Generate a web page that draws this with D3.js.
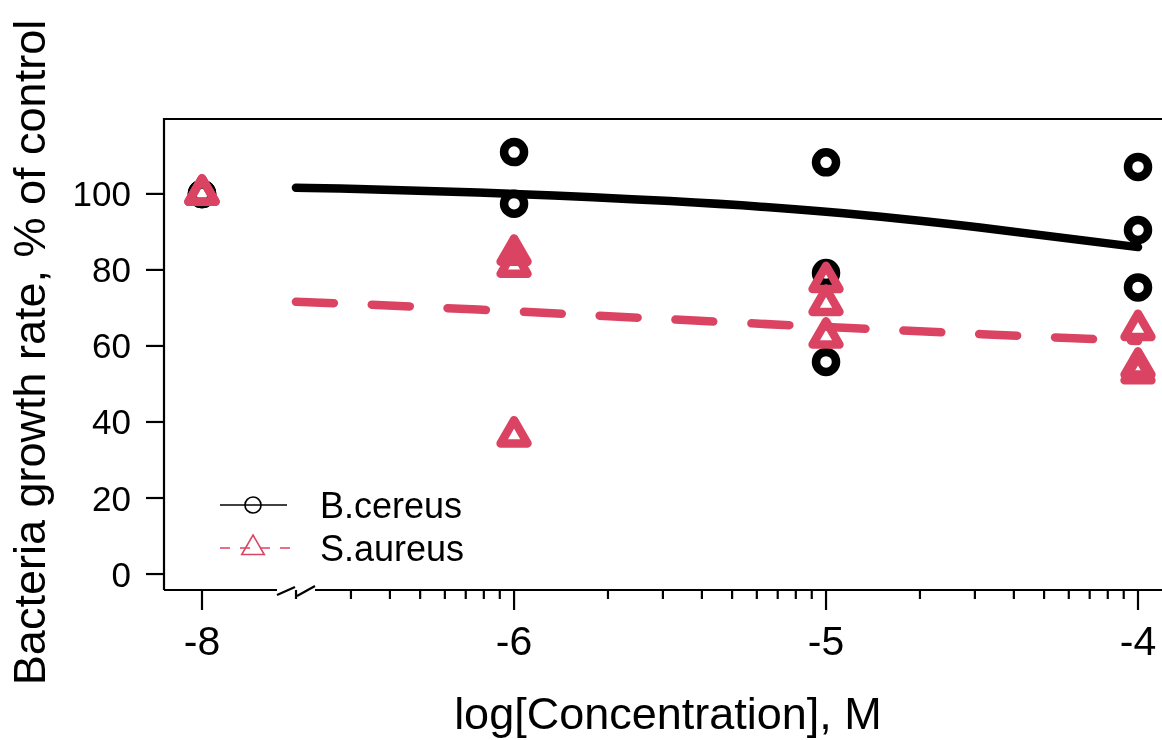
<!DOCTYPE html>
<html>
<head>
  <meta http-equiv="Content-Type" content="text/html; charset=UTF-8">
  <script src="https://d3js.org/d3.v7.min.js"></script>
  <style>
    body { margin:0;position:fixed;top:0;right:0;bottom:0;left:0;background:#fff; }
    text { font-family: "Liberation Sans", Arial, sans-serif; fill:#000; }
  </style>
</head>

<body>
  <svg width="1162" height="740"></svg>
  <script>
    // log10 concentration, -8 is the control dose (drawn left of the axis break)
    var doses = [-8, -6, -5, -4];
    var bcDose = [-8, -8, -8, -6, -6, -5, -5, -5, -4, -4, -4];
    var bcRate = [100, 100, 100, 111, 97.4, 108.3, 79.2, 55.8, 107.1, 90.5, 75.4];
    var saDose = [-8, -8, -8, -6, -6, -6, -5, -5, -5, -4, -4, -4];
    var saRate = [100, 100, 100, 84.2, 81, 36.4, 77, 71, 62.4, 64.4, 54.5, 53];
    // fitted curves
    var fitDose = [-6.7, -6.5, -6, -5.5, -5, -4.5, -4];
    var bcFit = [101.6, 101.3, 100, 98.1, 95.3, 91.1, 86];
    var saFit = [71.6, 71, 69.1, 67, 65, 63.1, 61.3];
    var yTicks = [0, 20, 40, 60, 80, 100];
    var xTickLabels = ["-8", "-6", "-5", "-4"];
    var seriesNames = ["B.cereus", "S.aureus"];

    var red = "#DA4462";
    var svg = d3.select("svg");

    // broken axis: control part, then log scale from the break on
    var x = d3.scaleLinear()
        .domain([-8.525, -8, -6.699, -4, -3.9])
        .range([164, 202, 296, 1138, 1169.2]);
    var y = d3.scaleLinear()
        .domain([-4.2, 119.7])
        .range([590, 119]);

    // box: left, top and right (off screen)
    svg.append("path")
        .attr("d", "M" + x(-3.9) + "," + y(119.7) + "H" + x(-8.525) + "V" + y(-4.2))
        .attr("fill", "none").attr("stroke", "#000").attr("stroke-width", 2.2);

    // x axis line with the break
    var xb = svg.append("g").attr("stroke", "#000").attr("stroke-width", 2.2).attr("fill", "none");
    xb.append("path").attr("d", "M164," + y(-4.2) + "H277");
    xb.append("path").attr("d", "M315," + y(-4.2) + "H1170");
    xb.append("path").attr("d", "M277," + (y(-4.2) + 5) + "L295," + (y(-4.2) - 3));
    xb.append("path").attr("d", "M297," + (y(-4.2) + 6) + "L315," + (y(-4.2) - 4));

    // minor log ticks
    var minor = [];
    [-7, -6, -5].forEach(function(dec) {
      for (var k = 2; k <= 9; k++) minor.push(dec + Math.log10(k));
    });
    xb.selectAll(".mt").data(minor).enter().append("line")
        .attr("x1", function(d) { return x(d); }).attr("x2", function(d) { return x(d); })
        .attr("y1", y(-4.2)).attr("y2", y(-4.2) + 9);
    xb.selectAll(".Mt").data(doses).enter().append("line")
        .attr("x1", function(d) { return x(d); }).attr("x2", function(d) { return x(d); })
        .attr("y1", y(-4.2)).attr("y2", y(-4.2) + 20);
    svg.selectAll(".xl").data(doses).enter().append("text")
        .attr("x", function(d) { return x(d); })
        .attr("y", 655)
        .attr("text-anchor", "middle")
        .style("font-size", "41px")
        .text(function(d, i) { return xTickLabels[i]; });

    // y axis
    svg.selectAll(".yt").data(yTicks).enter().append("line")
        .attr("x1", 146).attr("x2", 164)
        .attr("y1", function(d) { return y(d); }).attr("y2", function(d) { return y(d); })
        .attr("stroke", "#000").attr("stroke-width", 2.2);
    svg.selectAll(".yl").data(yTicks).enter().append("text")
        .attr("x", 131)
        .attr("y", function(d) { return y(d) + 12.5; })
        .attr("text-anchor", "end")
        .style("font-size", "35px")
        .text(function(d) { return d; });

    // titles
    svg.append("text")
        .attr("x", 668).attr("y", 729)
        .attr("text-anchor", "middle")
        .style("font-size", "45px")
        .text("log[Concentration], M");
    svg.append("text")
        .attr("transform", "translate(45," + ((119 + 590) / 2 - 2) + ") rotate(-90)")
        .attr("text-anchor", "middle")
        .style("font-size", "45px")
        .text("Bacteria growth rate, % of control");

    function tri(r) {
      var h = r / 2, w = r * Math.sqrt(3) / 2;
      return "M0," + (-r) + "L" + w + "," + h + "L" + (-w) + "," + h + "Z";
    }

    var line = d3.line()
        .x(function(d) { return x(d[0]); })
        .y(function(d) { return y(d[1]); })
        .curve(d3.curveNatural);

    // B.cereus
    svg.selectAll(".bc").data(d3.zip(bcDose, bcRate)).enter().append("circle")
        .attr("cx", function(d) { return x(d[0]); })
        .attr("cy", function(d) { return y(d[1]); })
        .attr("r", 10)
        .attr("fill", "none").attr("stroke", "#000").attr("stroke-width", 8.5);
    svg.append("path")
        .attr("d", line(d3.zip(fitDose, bcFit)))
        .attr("fill", "none").attr("stroke", "#000").attr("stroke-width", 8.5)
        .attr("stroke-linecap", "round");

    // S.aureus
    svg.selectAll(".sa").data(d3.zip(saDose, saRate)).enter().append("path")
        .attr("transform", function(d) { return "translate(" + x(d[0]) + "," + y(d[1]) + ")"; })
        .attr("d", tri(15.5))
        .attr("fill", "none").attr("stroke", red).attr("stroke-width", 8.5)
        .attr("stroke-linejoin", "round");
    svg.append("path")
        .attr("d", line(d3.zip(fitDose, saFit)))
        .attr("fill", "none").attr("stroke", red).attr("stroke-width", 8.5)
        .attr("stroke-dasharray", "38,38")
        .attr("stroke-linecap", "round");

    // legend
    var lg = svg.append("g");
    var rows = [505, 548];
    lg.append("line").attr("x1", 220).attr("x2", 287).attr("y1", rows[0]).attr("y2", rows[0])
        .attr("stroke", "#000").attr("stroke-width", 1.6);
    lg.append("circle").attr("cx", 253).attr("cy", rows[0]).attr("r", 8)
        .attr("fill", "none").attr("stroke", "#000").attr("stroke-width", 1.6);
    lg.append("line").attr("x1", 220).attr("x2", 290).attr("y1", rows[1]).attr("y2", rows[1])
        .attr("stroke", red).attr("stroke-width", 1.6).attr("stroke-dasharray", "10,10");
    lg.append("path").attr("transform", "translate(253," + rows[1] + ")").attr("d", tri(13))
        .attr("fill", "none").attr("stroke", red).attr("stroke-width", 1.6);
    lg.selectAll("text").data(seriesNames).enter().append("text")
        .attr("x", 320)
        .attr("y", function(d, i) { return rows[i] + 13; })
        .style("font-size", "36px")
        .text(function(d) { return d; });
  </script>
</body></html>
